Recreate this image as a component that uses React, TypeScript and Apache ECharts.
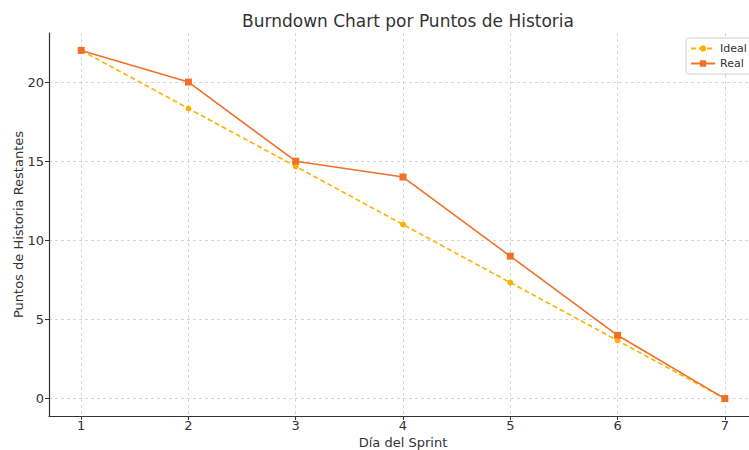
import React, { useEffect, useRef } from "react";
import * as echarts from "echarts";

const days = [1, 2, 3, 4, 5, 6, 7];
const idealValues = [22, 18.33, 14.67, 11, 7.33, 3.67, 0];
const realValues = [22, 20, 15, 14, 9, 4, 0];
const xTicks = [1, 2, 3, 4, 5, 6, 7];
const yTicks = [0, 5, 10, 15, 20];

const FONT = "DejaVu Sans";

export default function App() {
  const ref = useRef<HTMLDivElement>(null);
  useEffect(() => {
    document.body.style.margin = "0";
    const chart = echarts.init(ref.current!, undefined, { renderer: "svg" });
    const gridLine = { show: true, lineStyle: { color: "#cccccc", type: [3, 3] as any, width: 0.8 } };
    chart.setOption({
      animation: false,
      backgroundColor: "#ffffff",
      textStyle: { fontFamily: FONT },
      title: {
        text: "Burndown Chart por Puntos de Historia",
        left: 403,
        textAlign: "center",
        top: 7,
        textStyle: { fontFamily: FONT, fontSize: 17, fontWeight: "normal", color: "#333333" },
      },
      legend: {
        left: 686,
        top: 38,
        orient: "vertical",
        backgroundColor: "#ffffff",
        borderColor: "#d0d0d0",
        borderWidth: 1,
        borderRadius: 3,
        padding: [5, 6, 5, 4],
        itemGap: 4,
        itemWidth: 24,
        itemHeight: 8,
        textStyle: { fontFamily: FONT, fontSize: 11, color: "#333333" },
        data: ["Ideal", "Real"],
      },
      grid: { left: 49, top: 33, width: 708, height: 383, containLabel: false, outerBoundsMode: "none" },
      xAxis: {
        type: "value",
        min: 0.7,
        max: 7.3,
        name: "Día del Sprint",
        nameLocation: "middle",
        nameGap: 20,
        nameTextStyle: { fontFamily: FONT, fontSize: 13, color: "#333333" },
        axisLine: { show: true, onZero: false, lineStyle: { color: "#333333", width: 1.2 } },
        axisTick: { show: true, customValues: xTicks, length: 4, lineStyle: { color: "#333333" } },
        axisLabel: {
          customValues: xTicks,
          fontFamily: FONT,
          fontSize: 13,
          color: "#333333",
          margin: 9,
          verticalAlign: "middle",
        },
        splitLine: gridLine,
      },
      yAxis: {
        type: "value",
        min: -1.1,
        max: 23.1,
        name: "Puntos de Historia Restantes",
        nameLocation: "middle",
        nameGap: 31,
        nameMoveOverlap: false,
        nameTextStyle: { fontFamily: FONT, fontSize: 13, color: "#333333", verticalAlign: "middle" },
        axisLine: { show: true, onZero: false, lineStyle: { color: "#333333", width: 1.2 } },
        axisTick: { show: true, customValues: yTicks, length: 4, lineStyle: { color: "#333333" } },
        axisLabel: { customValues: yTicks, fontFamily: FONT, fontSize: 13, color: "#333333", margin: 5 },
        splitLine: gridLine,
      },
      series: [
        {
          name: "Ideal",
          type: "line",
          data: days.map((d, i) => [d, idealValues[i]]),
          symbol: "circle",
          symbolSize: 6,
          itemStyle: { color: "#FFB000" },
          lineStyle: { color: "#FFB000", width: 1.6, type: [5, 3] as any },
          z: 2,
        },
        {
          name: "Real",
          type: "line",
          data: days.map((d, i) => [d, realValues[i]]),
          symbol: "rect",
          symbolSize: 7,
          itemStyle: { color: "#F07028" },
          lineStyle: { color: "#F07028", width: 1.6 },
          z: 3,
        },
      ],
    });
    return () => chart.dispose();
  }, []);
  return <div ref={ref} style={{ width: 749, height: 450 }} />;
}
